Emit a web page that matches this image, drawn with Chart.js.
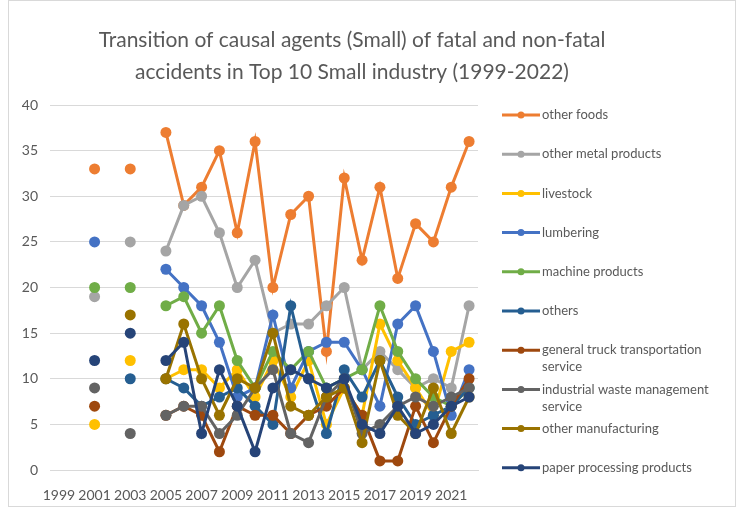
<!DOCTYPE html>
<html>
<head>
<meta charset="utf-8">
<title>Transition of causal agents (Small)</title>
<script src="https://cdn.jsdelivr.net/npm/chart.js@4"></script>
<style>
  html, body { margin: 0; padding: 0; background: #fff; }
  #wrap { width: 736px; height: 507px; position: relative; }
</style>
</head>
<body>
<div id="wrap"><canvas id="accident-chart" width="736" height="507"></canvas></div>
<script>
// Data
const years = ['1999','2000','2001','2002','2003','2004','2005','2006','2007','2008','2009','2010',
  '2011','2012','2013','2014','2015','2016','2017','2018','2019','2020','2021','2022'];

const otherFoods = [null,null,33,null,33,null,37,29,31,35,26,36,20,28,30,13,32,23,31,21,27,25,31,36];
const otherMetalProducts = [null,null,19,null,25,null,24,29,30,26,20,23,15,16,16,18,20,11,13,11,9,10,9,18];
const livestock = [null,null,5,null,12,null,10,11,11,9,11,8,12,8,12,5,9,6,16,12,9,6,13,14];
const lumbering = [null,null,25,null,null,null,22,20,18,14,8,9,17,9,13,14,14,11,7,16,18,13,6,11];
const machineProducts = [null,null,20,null,20,null,18,19,15,18,12,9,13,11,13,9,10,11,18,13,10,8,7,9];
const others = [null,null,null,null,10,null,10,9,7,8,9,7,5,18,10,4,11,8,12,8,5,6,7,9];
const truckTransport = [null,null,7,null,null,null,6,7,6,2,7,6,6,4,6,7,9,6,1,1,7,3,7,10];
const wasteManagement = [null,null,9,null,4,null,6,7,7,4,6,9,11,4,3,8,10,4,5,7,8,7,8,9];
const otherManufacturing = [null,null,null,null,17,null,10,16,10,6,10,9,15,7,6,8,9,3,12,6,4,9,4,8];
const paperProcessing = [null,null,12,null,15,null,12,14,4,11,7,2,9,11,10,9,10,5,4,7,4,5,7,8];

const seriesNames = ['other foods','other metal products','livestock','lumbering','machine products','others',
  'general truck transportation service','industrial waste management service','other manufacturing',
  'paper processing products'];
const seriesData = [otherFoods, otherMetalProducts, livestock, lumbering, machineProducts, others,
  truckTransport, wasteManagement, otherManufacturing, paperProcessing];
const seriesColors = ['#ED7D31','#A5A5A5','#FFC000','#4472C4','#70AD47','#255E91',
  '#9E480E','#636363','#997300','#264478'];

const titleLines = ['Transition of causal agents (Small) of fatal and non-fatal',
  'accidents in Top 10 Small industry (1999-2022)'];

const FONT = 'Lato, "Open Sans", sans-serif';
const TEXT_COLOR = '#595959';

// Title, legend and frame drawn by hand so they sit where Excel put them
const overlayPlugin = {
  id: 'overlay',
  afterDraw(chart) {
    const ctx = chart.ctx;
    ctx.save();

    // frame
    ctx.strokeStyle = '#d9d9d9';
    ctx.lineWidth = 1;
    ctx.strokeRect(8.5, 0.5, 727, 506);

    // title
    ctx.fillStyle = TEXT_COLOR;
    ctx.font = '21px ' + FONT;
    ctx.textAlign = 'center';
    ctx.textBaseline = 'middle';
    ctx.fillText(titleLines[0], 352, 40);
    ctx.fillText(titleLines[1], 352, 72);

    // legend, split lines for the long names
    const legendLines = [
      ['other foods'], ['other metal products'], ['livestock'], ['lumbering'], ['machine products'],
      ['others'], ['general truck transportation', 'service'], ['industrial waste management', 'service'],
      ['other manufacturing'], ['paper processing products']
    ];
    ctx.font = '13px ' + FONT;
    ctx.textAlign = 'left';
    seriesNames.forEach((name, i) => {
      const y = 115 + i * 39.2;
      ctx.strokeStyle = seriesColors[i];
      ctx.lineWidth = 3;
      ctx.beginPath();
      ctx.moveTo(502, y);
      ctx.lineTo(540, y);
      ctx.stroke();
      ctx.fillStyle = seriesColors[i];
      ctx.beginPath();
      ctx.arc(521, y, 3.5, 0, Math.PI * 2);
      ctx.fill();
      ctx.fillStyle = TEXT_COLOR;
      legendLines[i].forEach((line, k) => ctx.fillText(line, 542, y + k * 17));
    });
    ctx.restore();
  }
};

function buildDatasets() {
  return seriesNames.map((name, i) => ({
    label: name,
    data: seriesData[i],
    borderColor: seriesColors[i],
    backgroundColor: seriesColors[i],
    borderWidth: 3,
    pointRadius: 5.5,
    pointHoverRadius: 5.5,
    pointBorderWidth: 0,
    tension: 0,
    spanGaps: false,
    // later series drawn on top, like Excel
    order: seriesNames.length - i
  }));
}

const ctx = document.getElementById('accident-chart').getContext('2d');
new Chart(ctx, {
  type: 'line',
  data: {
    labels: years,
    datasets: buildDatasets()
  },
  options: {
    responsive: false,
    animation: false,
    layout: { padding: { top: 105, left: 10, right: 258, bottom: 7 } },
    plugins: {
      legend: { display: false },
      title: { display: false },
      tooltip: { enabled: false }
    },
    scales: {
      x: {
        offset: true,
        grid: { display: false },
        border: { display: true, color: '#d9d9d9' },
        afterFit: s => { s.height = 30; },
        ticks: {
          autoSkip: false,
          maxRotation: 0,
          padding: 9,
          color: TEXT_COLOR,
          font: { family: FONT, size: 14 },
          callback: (val, idx) => (idx % 2 === 0 ? years[idx] : '')
        }
      },
      y: {
        min: 0,
        max: 40,
        afterFit: s => { s.width = 40; },
        grid: { color: '#d9d9d9', drawTicks: false },
        border: { display: false },
        ticks: {
          stepSize: 5,
          padding: 12,
          color: TEXT_COLOR,
          font: { family: FONT, size: 14 }
        }
      }
    }
  },
  plugins: [overlayPlugin]
});
</script>
</body>
</html>
